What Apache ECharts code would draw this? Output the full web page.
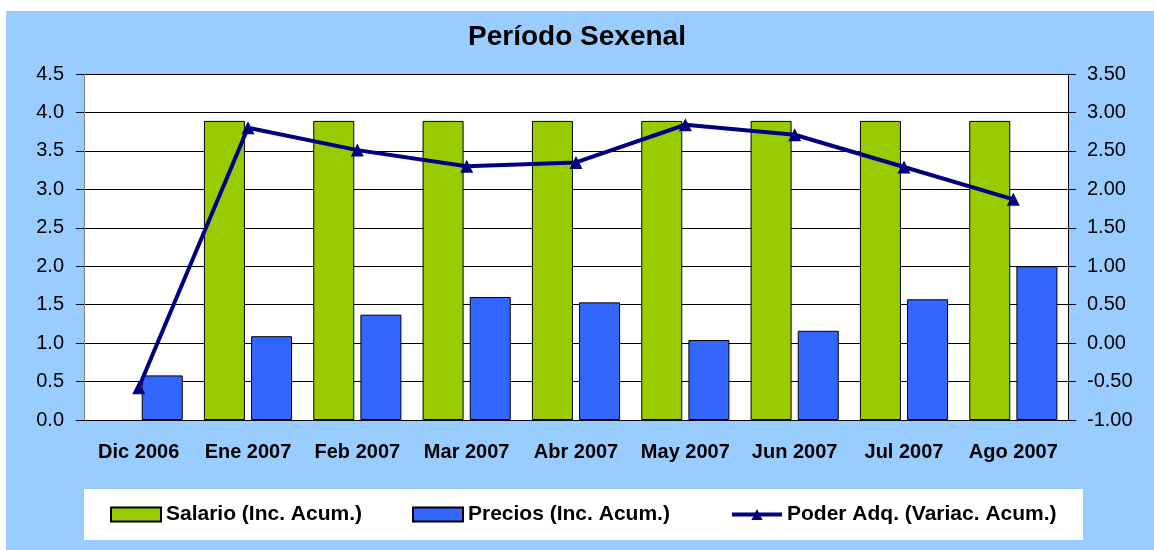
<!DOCTYPE html>
<html>
<head>
<meta charset="utf-8">
<script src="https://cdn.jsdelivr.net/npm/echarts@6/dist/echarts.min.js"></script>
<style>
  html, body { margin: 0; padding: 0; background: #fff; }
  #chart { width: 1154px; height: 550px; }
</style>
</head>
<body>
<div id="chart"></div>
<script>
// datos
var meses = ['Dic 2006', 'Ene 2007', 'Feb 2007', 'Mar 2007', 'Abr 2007', 'May 2007', 'Jun 2007', 'Jul 2007', 'Ago 2007'];
var salario = [null, 3.89, 3.89, 3.89, 3.89, 3.89, 3.89, 3.89, 3.89];
var precios = [0.58, 1.09, 1.37, 1.60, 1.53, 1.04, 1.16, 1.57, 2.00];
var poderAdq = [-0.58, 2.80, 2.51, 2.30, 2.35, 2.84, 2.71, 2.29, 1.87];

var nombres = ['Salario (Inc. Acum.)', 'Precios (Inc. Acum.)', 'Poder Adq. (Variac. Acum.)'];

var myChart = echarts.init(document.getElementById('chart'));

var fuente = 'Liberation Sans, Arial, sans-serif';

function leyenda(item, x) {
    return {
        data: [item],
        left: x,
        top: 504,
        padding: 0,
        itemWidth: 50,
        itemHeight: 14,
        itemGap: 5,
        lineStyle: { width: 4 },
        textStyle: { color: '#000', fontSize: 21, fontWeight: 'bold', fontFamily: fuente }
    };
}

var option = {
    backgroundColor: '#fff',
    animation: false,
    title: {
        text: 'Período Sexenal',
        left: 'center',
        top: 23,
        padding: 0,
        textStyle: { color: '#000', fontSize: 28, fontWeight: 'bold', fontFamily: fuente }
    },
    graphic: [
        {   // fondo azul
            type: 'rect', z: -10,
            shape: { x: 6, y: 11, width: 1148, height: 539 },
            style: { fill: '#99CCFF' }
        },
        {   // caja de leyenda
            type: 'rect', z: -5,
            shape: { x: 84, y: 489, width: 999, height: 51 },
            style: { fill: '#fff' }
        }
    ],
    legend: [
        leyenda({ name: nombres[0], icon: 'rect' }, 110),
        leyenda({ name: nombres[1], icon: 'rect' }, 412),
        leyenda({ name: nombres[2] }, 730)
    ],
    grid: {
        left: 84,
        right: 86,
        top: 74,
        bottom: 130,
        show: true,
        backgroundColor: '#fff',
        borderWidth: 0
    },
    xAxis: {
        type: 'category',
        data: meses,
        axisLine: { lineStyle: { color: '#000', width: 1 } },
        axisTick: { length: 8, lineStyle: { color: '#000' } },
        axisLabel: {
            interval: 0,
            color: '#000', fontSize: 20, fontWeight: 'bold', fontFamily: fuente, margin: 22
        }
    },
    yAxis: [
        {
            type: 'value',
            min: 0,
            max: 4.5,
            interval: 0.5,
            axisLine: { show: true, lineStyle: { color: '#808080' } },
            axisTick: { show: true, length: 8, lineStyle: { color: '#000' } },
            splitLine: { lineStyle: { color: '#000', width: 1 } },
            axisLabel: {
                color: '#000', fontSize: 20, fontFamily: fuente, margin: 20,
                formatter: function (v) { return v.toFixed(1); }
            }
        },
        {
            type: 'value',
            min: -1,
            max: 3.5,
            interval: 0.5,
            position: 'right',
            axisLine: { show: true, lineStyle: { color: '#000' } },
            axisTick: { show: true, length: 8, lineStyle: { color: '#000' } },
            splitLine: { show: false },
            axisLabel: {
                color: '#000', fontSize: 20, fontFamily: fuente, margin: 19,
                formatter: function (v) { return v.toFixed(2); }
            }
        }
    ],
    series: [
        {
            name: nombres[0],
            type: 'bar',
            data: salario,
            barWidth: 41,
            barGap: '15%',
            itemStyle: { color: '#99CC00', borderColor: '#000', borderWidth: 1 }
        },
        {
            name: nombres[1],
            type: 'bar',
            data: precios,
            barWidth: 41,
            barGap: '15%',
            itemStyle: { color: '#3366FF', borderColor: '#000', borderWidth: 1 }
        },
        {
            name: nombres[2],
            type: 'line',
            yAxisIndex: 1,
            data: poderAdq,
            symbol: 'triangle',
            symbolSize: 13,
            lineStyle: { color: '#000080', width: 4 },
            itemStyle: { color: '#000080' },
            z: 5
        }
    ]
};

myChart.setOption(option);
</script>
</body>
</html>
